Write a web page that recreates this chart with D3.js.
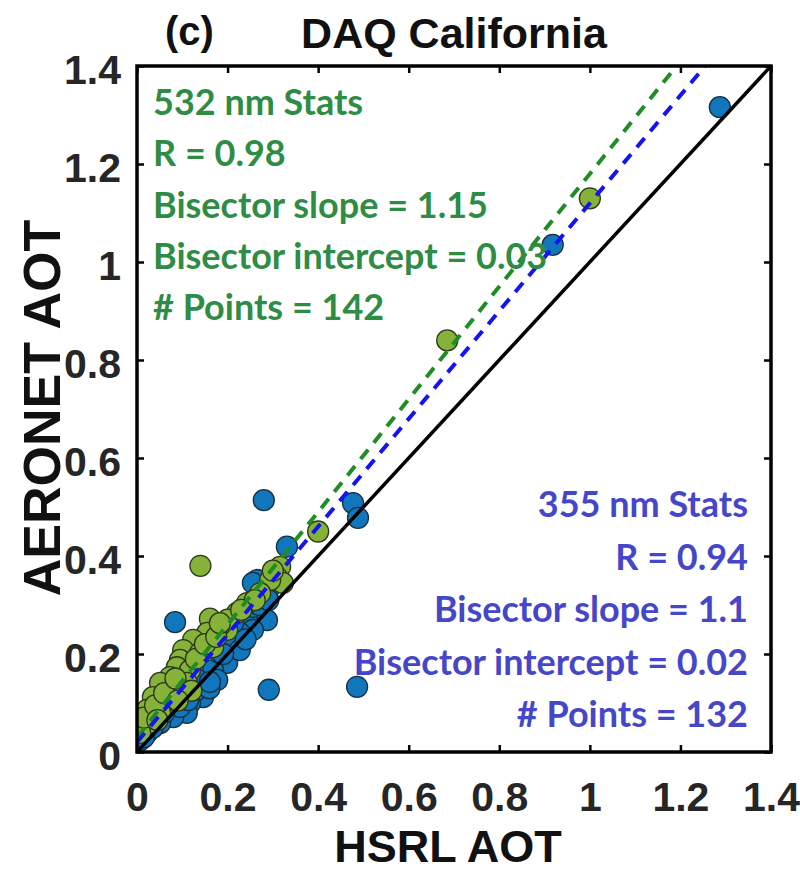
<!DOCTYPE html>
<html>
<head>
<meta charset="utf-8">
<script src="https://cdn.jsdelivr.net/npm/d3@7"></script>
<style>
  body { margin: 0; background: #fff; }
  .tick text { font-family: "Liberation Sans", Arial, sans-serif; font-weight: bold; }
</style>
</head>
<body>
<div id="scatter"></div>
<script>
// data: [HSRL AOT, AERONET AOT]
var points532 = [
  [1.00, 1.13], [0.685, 0.84], [0.40, 0.45], [0.14, 0.38],
  [0.316, 0.378], [0.309, 0.357], [0.322, 0.345], [0.294, 0.351], [0.272, 0.324],
  [0.243, 0.304], [0.221, 0.284], [0.199, 0.249], [0.161, 0.272], [0.183, 0.258],
  [0.155, 0.243], [0.124, 0.229], [0.168, 0.214], [0.102, 0.208], [0.139, 0.202],
  [0.095, 0.188], [0.088, 0.173], [0.117, 0.167], [0.073, 0.153], [0.110, 0.141],
  [0.051, 0.141], [0.079, 0.127], [0.035, 0.112], [0.066, 0.106], [0.022, 0.086],
  [0.051, 0.080], [0.007, 0.059], [0.029, 0.059], [0.007, 0.039], [0.015, 0.070],
  [0.040, 0.095], [0.060, 0.120], [0.085, 0.150], [0.130, 0.190], [0.150, 0.220],
  [0.175, 0.235], [0.200, 0.270], [0.260, 0.310], [0.230, 0.290], [0.120, 0.125],
  [0.090, 0.105], [0.045, 0.065], [0.183, 0.263], [0.300, 0.370]
];

var points355 = [
  [1.287, 1.316], [0.918, 1.035], [0.477, 0.508], [0.488, 0.478], [0.486, 0.133],
  [0.280, 0.514], [0.291, 0.127], [0.084, 0.265], [0.331, 0.419],
  [0.265, 0.351], [0.278, 0.317], [0.287, 0.269], [0.243, 0.269], [0.256, 0.249],
  [0.227, 0.243], [0.205, 0.222], [0.199, 0.182], [0.168, 0.167], [0.155, 0.141],
  [0.146, 0.112], [0.117, 0.100], [0.110, 0.080], [0.080, 0.071], [0.051, 0.059],
  [0.022, 0.039], [0.007, 0.024], [0.294, 0.337], [0.256, 0.296], [0.212, 0.263],
  [0.227, 0.208], [0.183, 0.202], [0.177, 0.147], [0.132, 0.127], [0.095, 0.092],
  [0.270, 0.300], [0.240, 0.230], [0.190, 0.200], [0.130, 0.150], [0.100, 0.120],
  [0.060, 0.080], [0.035, 0.050], [0.015, 0.030], [0.160, 0.130], [0.290, 0.310],
  [0.256, 0.345], [0.161, 0.143], [0.113, 0.106]
];

// bisector fits [slope, intercept]
var fit532 = [1.15, 0.03];
var fit355 = [1.1, 0.02];

var stats532 = ["532 nm Stats", "R = 0.98", "Bisector slope = 1.15", "Bisector intercept = 0.03", "# Points = 142"];
var stats355 = ["355 nm Stats", "R = 0.94", "Bisector slope = 1.1", "Bisector intercept = 0.02", "# Points = 132"];

var tickValues = [0, 0.2, 0.4, 0.6, 0.8, 1, 1.2, 1.4];

var svgWidth = 800;
var svgHeight = 874;

var margin = {
    top: 66,
    right: 29,
    bottom: 122,
    left: 137
};

var width = svgWidth - margin.left - margin.right;
var height = svgHeight - margin.top - margin.bottom;

var svg = d3.select("#scatter")
    .append("svg")
    .attr("width", svgWidth)
    .attr("height", svgHeight);

var chartGroup = svg.append("g")
    .attr("transform", `translate(${margin.left}, ${margin.top})`);

var xScale = d3.scaleLinear().domain([0, 1.4]).range([0, width]);
var yScale = d3.scaleLinear().domain([0, 1.4]).range([height, 0]);

svg.append("defs").append("clipPath")
    .attr("id", "plotClip")
    .append("rect")
    .attr("width", width)
    .attr("height", height);

var fmt = d => d === 0 ? "0" : d3.format("")(d);

// axes with inward ticks
var xAxis = chartGroup.append("g")
    .attr("transform", `translate(0, ${height})`)
    .call(d3.axisBottom(xScale).tickValues(tickValues).tickSize(-7).tickPadding(30).tickFormat(fmt));

var yAxis = chartGroup.append("g")
    .call(d3.axisLeft(yScale).tickValues(tickValues).tickSize(-7).tickPadding(16).tickFormat(fmt));

var topAxis = chartGroup.append("g")
    .call(d3.axisTop(xScale).tickValues(tickValues).tickSize(-7).tickFormat(""));

var rightAxis = chartGroup.append("g")
    .attr("transform", `translate(${width}, 0)`)
    .call(d3.axisRight(yScale).tickValues(tickValues).tickSize(-7).tickFormat(""));

chartGroup.selectAll(".domain").remove();
chartGroup.selectAll(".tick line")
    .attr("stroke", "#000")
    .attr("stroke-width", 2.5);

xAxis.selectAll("text")
    .attr("font-size", 41)
    .attr("fill", "#262626");

yAxis.selectAll("text")
    .attr("font-size", 41)
    .attr("dy", "0.42em")
    .attr("fill", "#262626");

var plot = chartGroup.append("g").attr("clip-path", "url(#plotClip)");

// scatter points
plot.selectAll("circle.p355")
    .data(points355)
    .enter().append("circle")
    .attr("class", "p355")
    .attr("cx", d => xScale(d[0]))
    .attr("cy", d => yScale(d[1]))
    .attr("r", 10.5)
    .attr("fill", "#1276bd")
    .attr("stroke", "#15303f")
    .attr("stroke-width", 1.3);

plot.selectAll("circle.p532")
    .data(points532)
    .enter().append("circle")
    .attr("class", "p532")
    .attr("cx", d => xScale(d[0]))
    .attr("cy", d => yScale(d[1]))
    .attr("r", 10.5)
    .attr("fill", "#86b23a")
    .attr("stroke", "#2a3a18")
    .attr("stroke-width", 1.3);

// 1:1 line
plot.append("line")
    .attr("x1", xScale(0))
    .attr("y1", yScale(0))
    .attr("x2", xScale(1.4))
    .attr("y2", yScale(1.4))
    .attr("stroke", "#000")
    .attr("stroke-width", 3.5);

function fitLine(fit, color) {
    var xEnd = (1.4 - fit[1]) / fit[0];
    plot.append("line")
        .attr("x1", xScale(0))
        .attr("y1", yScale(fit[1]))
        .attr("x2", xScale(xEnd))
        .attr("y2", yScale(1.4))
        .attr("stroke", color)
        .attr("stroke-width", 4)
        .attr("stroke-dasharray", "12,9");
}
fitLine(fit532, "#1f8c24");
fitLine(fit355, "#1414f0");

// frame
chartGroup.append("rect")
    .attr("width", width)
    .attr("height", height)
    .attr("fill", "none")
    .attr("stroke", "#000")
    .attr("stroke-width", 3.5);

// stats text
chartGroup.append("g").selectAll("text")
    .data(stats532)
    .enter().append("text")
    .attr("x", 16)
    .attr("y", (d, i) => 49 + i * 51.3)
    .attr("font-family", "Lato, sans-serif")
    .attr("font-weight", "bold")
    .attr("font-size", 36)
    .attr("fill", "#2e8c44")
    .text(d => d);

chartGroup.append("g").selectAll("text")
    .data(stats355)
    .enter().append("text")
    .attr("x", width - 23)
    .attr("y", (d, i) => 451 + i * 52.5)
    .attr("text-anchor", "end")
    .attr("font-family", "Lato, sans-serif")
    .attr("font-weight", "bold")
    .attr("font-size", 36)
    .attr("fill", "#4646c8")
    .text(d => d);

// titles and axis labels
svg.append("text")
    .attr("x", 165)
    .attr("y", 45)
    .attr("font-family", "Liberation Sans, Arial, sans-serif")
    .attr("font-weight", "bold")
    .attr("font-size", 40)
    .attr("fill", "#111")
    .text("(c)");

svg.append("text")
    .attr("x", 454)
    .attr("y", 48)
    .attr("text-anchor", "middle")
    .attr("font-family", "Liberation Sans, Arial, sans-serif")
    .attr("font-weight", "bold")
    .attr("font-size", 43)
    .attr("fill", "#111")
    .text("DAQ California");

svg.append("text")
    .attr("x", 448)
    .attr("y", 862)
    .attr("text-anchor", "middle")
    .attr("font-family", "Liberation Sans, Arial, sans-serif")
    .attr("font-weight", "bold")
    .attr("font-size", 45)
    .attr("fill", "#111")
    .text("HSRL AOT");

svg.append("text")
    .attr("transform", "translate(60, 408) rotate(-90)")
    .attr("text-anchor", "middle")
    .attr("font-family", "Liberation Sans, Arial, sans-serif")
    .attr("font-weight", "bold")
    .attr("font-size", 52)
    .attr("fill", "#111")
    .text("AERONET AOT");
</script>
</body>
</html>
